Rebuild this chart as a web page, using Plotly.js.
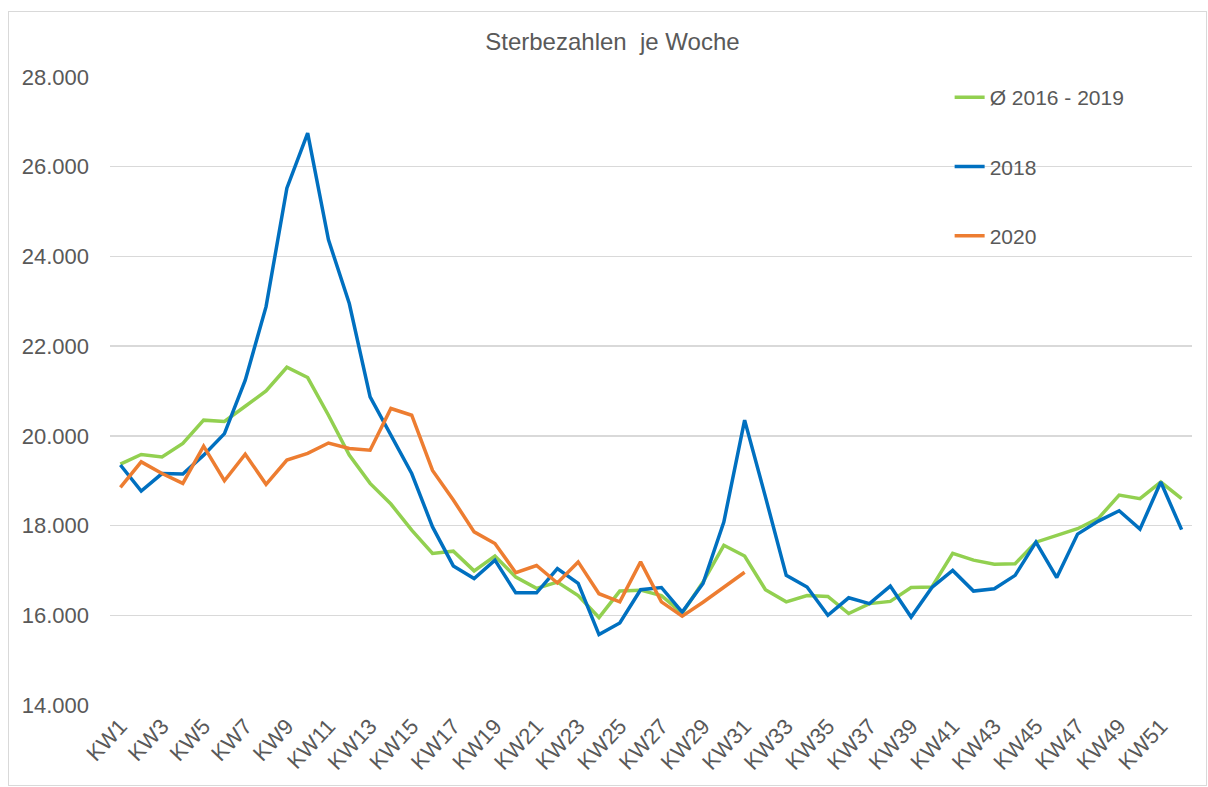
<!DOCTYPE html>
<html>
<head>
<meta charset="utf-8">
<script src="https://cdn.plot.ly/plotly-3.0.1.min.js"></script>
<style>
  body { margin: 0; background: #fff; }
  #plot { width: 1208px; height: 787px; }
  #frame { position: absolute; left: 8px; top: 11px; width: 1197px; height: 773px;
           border: 1px solid #d9d9d9; pointer-events: none; }
</style>
</head>
<body>
<div id="plot"></div>
<div id="frame"></div>
<script>
// weeks KW1..KW52
var weeks = [];
for (var i = 1; i <= 52; i++) weeks.push("KW" + i);

var avg1619 = [19370, 19585, 19530, 19830, 20350, 20320, 20660, 21000, 21530, 21300,
  20460, 19570, 18940, 18480, 17900, 17380, 17430, 16990, 17320, 16850,
  16600, 16740, 16440, 15950, 16540, 16560, 16440, 16050, 16740, 17560,
  17320, 16570, 16300, 16440, 16420, 16040, 16260, 16310, 16620, 16630,
  17380, 17230, 17140, 17150, 17630, 17780, 17930, 18160, 18680, 18600,
  18970, 18600];

var deaths2018 = [19350, 18770, 19160, 19150, 19570, 20050, 21240, 22880, 25520, 26750,
  24370, 22950, 20870, 20020, 19160, 17970, 17100, 16820, 17230, 16500,
  16500, 17040, 16710, 15570, 15830, 16570, 16620, 16070, 16710, 18080,
  20350, 18640, 16890, 16630, 16000, 16390, 16260, 16650, 15960, 16620,
  17000, 16540, 16590, 16890, 17630, 16840, 17810, 18100, 18330, 17920,
  18970, 17910];

var deaths2020 = [18850, 19420, 19160, 18940, 19770, 19000, 19590, 18920, 19460, 19610,
  19840, 19720, 19680, 20610, 20460, 19230, 18570, 17860, 17600, 16950,
  17110, 16720, 17190, 16480, 16300, 17190, 16300, 15980, 16290, 16630,
  16960];

var grey = "#595959";

var traces = [
  { x: weeks, y: avg1619, name: "Ø 2016 - 2019", type: "scatter", mode: "lines",
    line: { color: "#92D050", width: 3.5 }, legendgroup: "a" },
  { x: weeks, y: deaths2018, name: "2018", type: "scatter", mode: "lines",
    line: { color: "#0070C0", width: 3.5 }, legendgroup: "b" },
  { x: weeks.slice(0, deaths2020.length), y: deaths2020, name: "2020", type: "scatter", mode: "lines",
    line: { color: "#ED7D31", width: 3.5 }, legendgroup: "c" }
];

var layout = {
  width: 1208, height: 787,
  margin: { l: 110, r: 16, t: 77, b: 82 },
  paper_bgcolor: "#fff", plot_bgcolor: "#fff",
  separators: ",.",
  font: { family: "Liberation Sans, Arial, sans-serif", color: grey, size: 20 },
  title: { text: "Sterbezahlen\u00a0 je Woche", x: 0.507, xanchor: "center", y: 0.947, yanchor: "middle",
           font: { size: 24, color: grey } },
  xaxis: {
    type: "category", range: [-0.5, 51.5],
    tickmode: "array", tickvals: weeks.filter(function (w, i) { return i % 2 === 0; }),
    tickangle: -47, showgrid: false, zeroline: false, showline: false, ticks: "",
    ticklabelstandoff: 3,
    tickfont: { size: 22, color: grey }
  },
  yaxis: {
    range: [14000, 28000], dtick: 2000, tickformat: ",d",
    showgrid: true, gridcolor: "#d9d9d9", gridwidth: 1.5, zeroline: false,
    showline: false, ticks: "", ticklabelstandoff: 20,
    tickfont: { size: 22, color: grey }
  },
  showlegend: true,
  legend: { x: 0.776, xanchor: "left", y: 1.0, yanchor: "top",
            font: { size: 21, color: grey }, tracegroupgap: 39, bgcolor: "rgba(0,0,0,0)" },
  hovermode: false
};

Plotly.newPlot("plot", traces, layout, { displayModeBar: false, staticPlot: true });
</script>
</body>
</html>
